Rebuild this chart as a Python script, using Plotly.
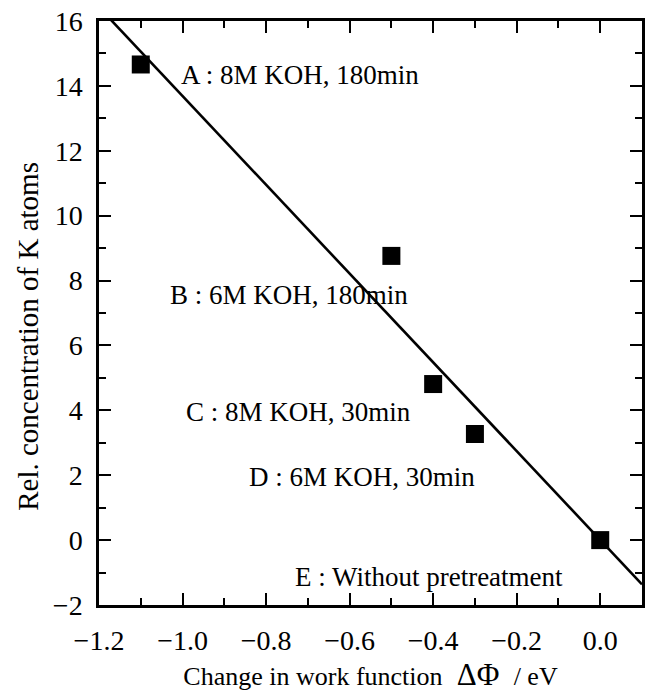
import numpy as np
import plotly.graph_objects as go

# ---- data ----
samples = ["A", "B", "C", "D", "E"]
delta_phi = [-1.1, -0.5, -0.4, -0.3, 0.0]          # eV
rel_conc = [14.66, 8.76, 4.81, 3.27, 0.0]           # rel. concentration of K atoms
sample_desc = ["A : 8M KOH, 180min", "B : 6M KOH, 180min", "C : 8M KOH, 30min",
               "D : 6M KOH, 30min", "E : Without pretreatment"]
x_ticks = [-1.2, -1.0, -0.8, -0.6, -0.4, -0.2, 0.0]
y_ticks = [-2, 0, 2, 4, 6, 8, 10, 12, 14, 16]

# linear regression line through the data
slope, intercept = np.polyfit(delta_phi, rel_conc, 1)
fit_x = np.array([-1.2, 0.1])
fit_y = slope * fit_x + intercept

FONT = "Liberation Serif"

fig = go.Figure()
fig.add_trace(go.Scatter(x=fit_x, y=fit_y, mode="lines",
                         line=dict(color="black", width=2.6), showlegend=False,
                         hoverinfo="skip"))
fig.add_trace(go.Scatter(x=delta_phi, y=rel_conc, mode="markers",
                         marker=dict(symbol="square", size=18, color="black",
                                     line=dict(width=0)),
                         text=samples, showlegend=False, cliponaxis=False))

# label placement (layout only)
label_pos = [(-1.008, 14.35), (-1.036, 7.57), (-0.996, 3.94), (-0.846, 1.94), (-0.736, -1.14)]
for txt, (lx, ly) in zip(sample_desc, label_pos):
    fig.add_annotation(x=lx, y=ly, xref="x", yref="y", text=txt, showarrow=False,
                       xanchor="left", yanchor="middle",
                       font=dict(family=FONT, size=27, color="black"))

# y-axis title (placed as annotation to match the reference offset)
fig.add_annotation(x=-0.13, y=0.46, xref="paper", yref="paper",
                   text="Rel. concentration of K atoms", textangle=-90, showarrow=False,
                   xanchor="center", yanchor="middle",
                   font=dict(family=FONT, size=29, color="black"))

axis_common = dict(showline=True, linecolor="black", linewidth=2.5, mirror="ticks",
                   ticks="inside", ticklen=12, tickwidth=2, tickcolor="black",
                   showgrid=False, zeroline=False,
                   tickfont=dict(family=FONT, size=28, color="black"))

fig.update_xaxes(range=[-1.2, 0.1], tickvals=x_ticks, tickformat=".1f",
                 minor=dict(dtick=0.1, ticks="inside", ticklen=7, tickwidth=2,
                            tickcolor="black", showgrid=False),
                 ticklabelstandoff=9,
                 title=dict(text="Change in work function <span style='font-size:31px'>&nbsp;ΔΦ&nbsp;</span> / eV",
                            font=dict(family=FONT, size=26, color="black"), standoff=12),
                 **axis_common)
fig.update_yaxes(range=[-2, 16], tickvals=y_ticks,
                 minor=dict(dtick=1, ticks="inside", ticklen=7, tickwidth=2,
                            tickcolor="black", showgrid=False),
                 ticklabelstandoff=8,
                 **axis_common)

fig.update_layout(width=651, height=696, margin=dict(l=99, r=6, t=20, b=91),
                  plot_bgcolor="white", paper_bgcolor="white")

fig.write_html("out.html")
